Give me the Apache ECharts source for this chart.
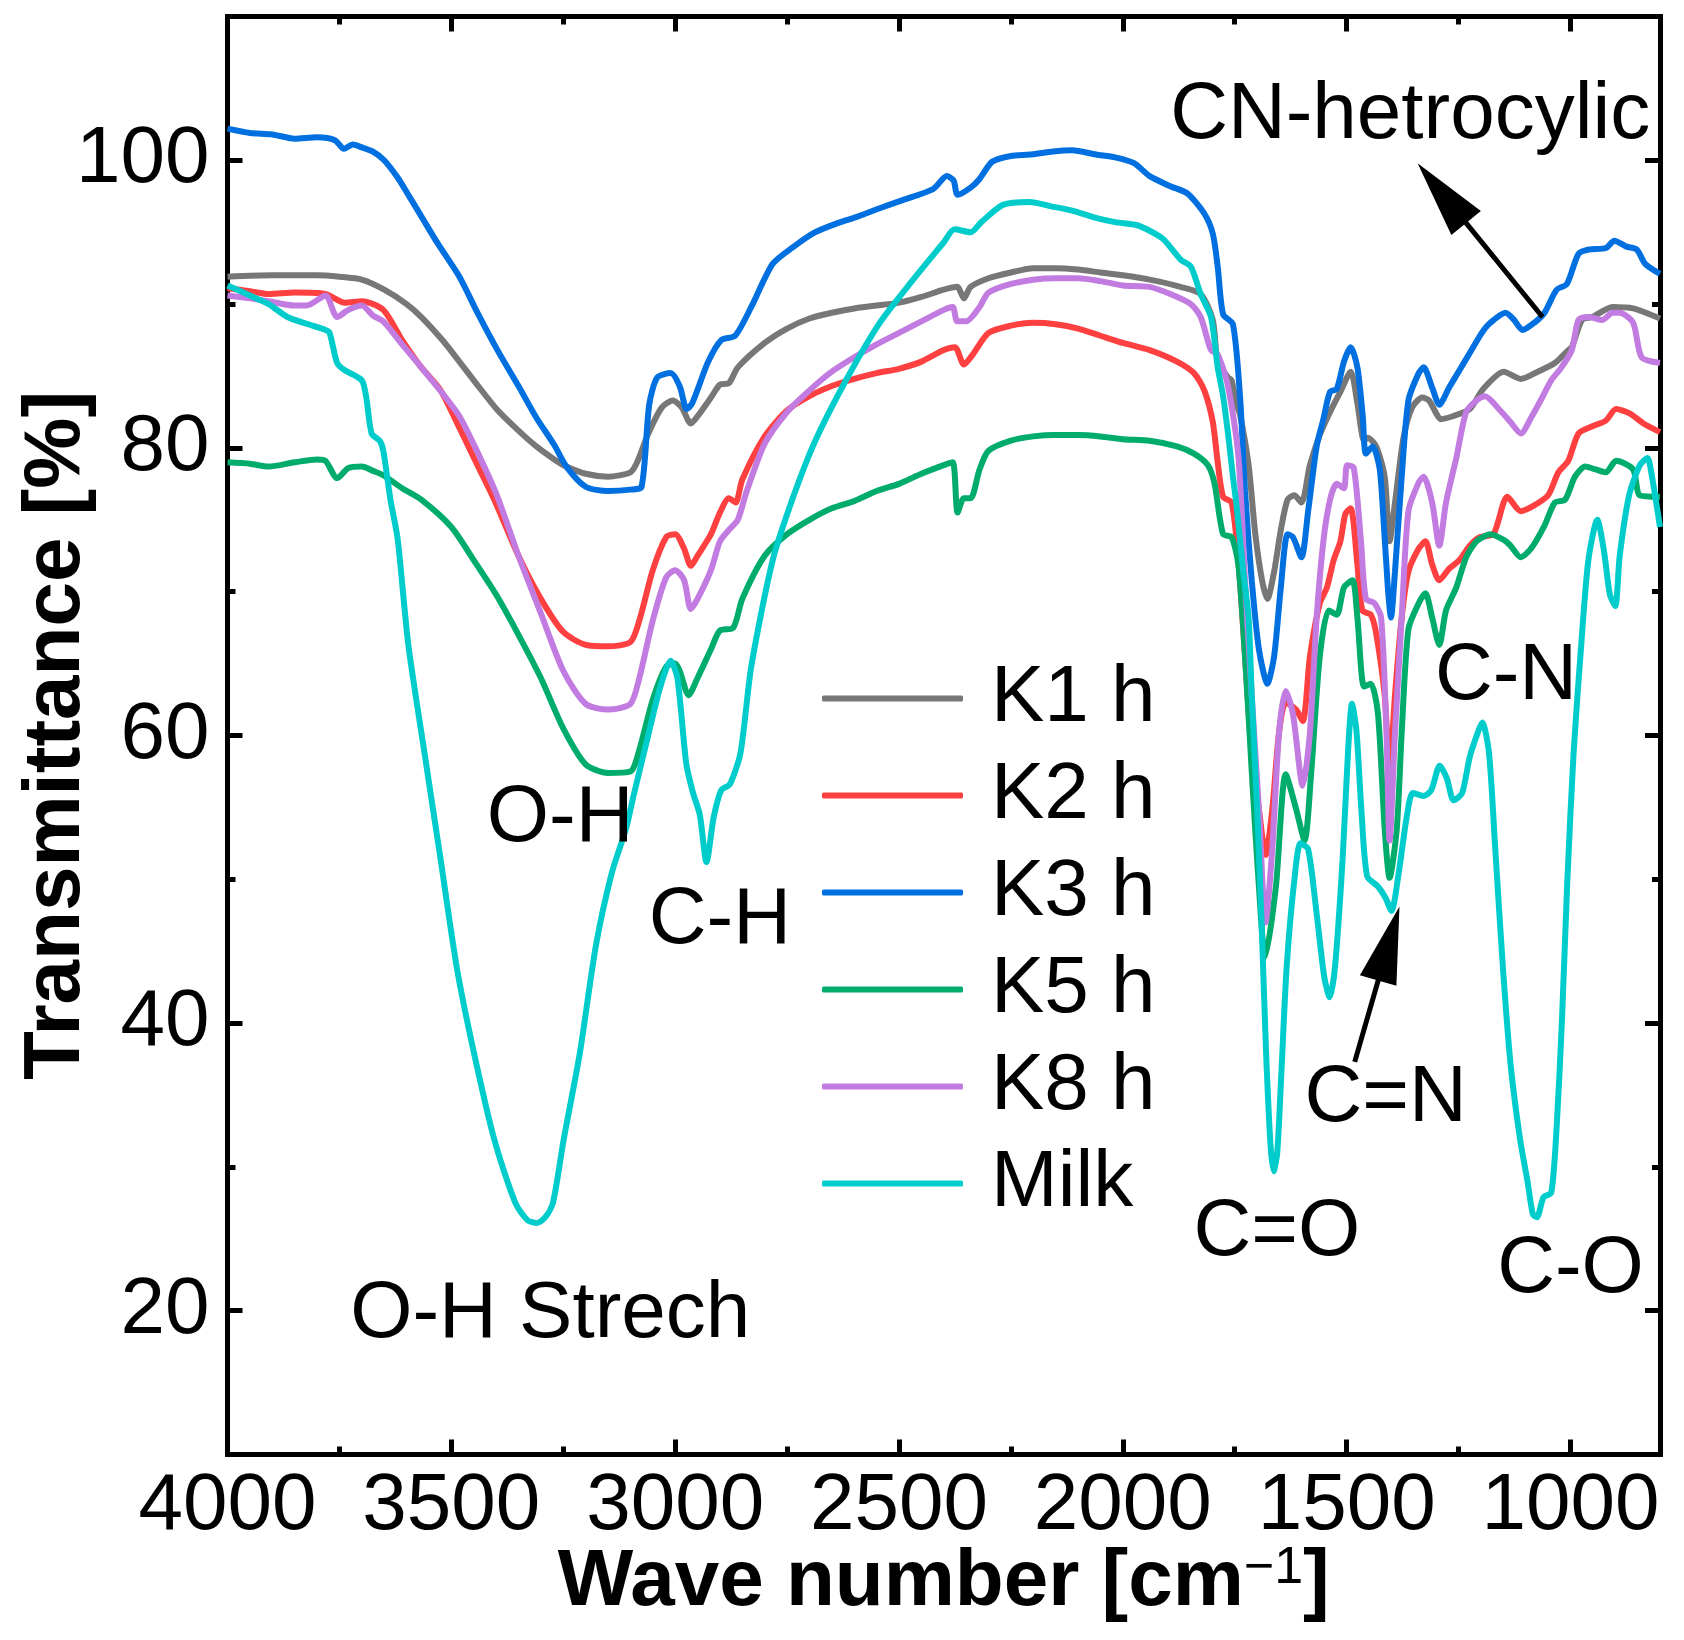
<!DOCTYPE html>
<html><head><meta charset="utf-8">
<script src="https://cdn.jsdelivr.net/npm/echarts@6/dist/echarts.min.js"></script>
<style>html,body{margin:0;padding:0;background:#fff}#c{width:1684px;height:1640px}</style>
</head><body><div id="c"></div>
<script>
const FONT = '"Liberation Sans", Arial, Helvetica, sans-serif';
const seriesNames = ['K1 h', 'K2 h', 'K3 h', 'K5 h', 'K8 h', 'Milk'];
const seriesColors = ['#777777', '#FF4040', '#0070E0', '#00AC6B', '#C27BE0', '#00CCCC'];

const xMajorTicks = [1000, 1500, 2000, 2500, 3000, 3500, 4000];
const xMinorTicks = [1250, 1750, 2250, 2750, 3250, 3750];
const yMajorTicks = [20, 40, 60, 80, 100];
const yMinorTicks = [30, 50, 70, 90];

const k1 = [[4000,91.9],[3900,92.0],[3800,92.0],[3750,91.9],[3700,91.7],[3650,91.0],[3600,90.0],[3567,89.1],[3520,87.5],[3482,86.0],[3440,84.3],[3396,82.6],[3350,81.2],[3310,80.1],[3270,79.2],[3243,78.7],[3200,78.2],[3150,78.0],[3100,78.3],[3085,79.0],[3060,81.0],[3030,82.8],[3005,83.3],[2985,82.8],[2965,81.7],[2950,82.2],[2920,83.5],[2900,84.4],[2880,84.5],[2860,85.6],[2800,87.3],[2750,88.3],[2700,89.0],[2650,89.4],[2600,89.7],[2550,89.9],[2500,90.1],[2450,90.5],[2400,91.0],[2370,91.2],[2355,90.4],[2340,91.2],[2300,91.8],[2250,92.2],[2200,92.5],[2150,92.5],[2100,92.4],[2050,92.2],[2000,92.0],[1940,91.7],[1871,91.2],[1826,90.7],[1799,88.9],[1788,86.0],[1765,84.9],[1757,84.7],[1746,83.0],[1738,82.3],[1719,78.8],[1704,74.0],[1689,70.8],[1677,69.5],[1662,71.4],[1647,74.3],[1632,76.4],[1617,76.7],[1601,76.2],[1582,78.8],[1560,80.9],[1537,82.5],[1514,83.9],[1491,85.3],[1476,83.1],[1461,80.5],[1453,80.7],[1434,80.1],[1415,78.0],[1404,73.5],[1392,76.2],[1373,80.7],[1354,82.8],[1331,83.5],[1316,83.3],[1300,82.4],[1290,82.0],[1263,82.2],[1225,82.7],[1195,84.1],[1149,85.3],[1111,84.8],[1073,85.3],[1035,85.9],[1005,86.8],[997,87.0],[974,88.9],[951,89.1],[906,89.8],[860,89.7],[800,89.0]];

const k2 = [[4000,91.1],[3950,90.9],[3908,90.7],[3850,90.8],[3781,90.7],[3738,90.1],[3700,90.2],[3652,89.6],[3610,87.5],[3567,85.6],[3524,84.0],[3482,81.4],[3440,78.7],[3404,76.4],[3350,72.5],[3300,69.5],[3250,67.2],[3200,66.3],[3150,66.2],[3100,66.5],[3080,68.0],[3050,71.5],[3020,73.8],[3000,74.0],[2980,73.0],[2965,71.8],[2950,72.5],[2920,74.0],[2900,75.5],[2880,76.5],[2865,76.2],[2850,77.8],[2800,80.8],[2750,82.6],[2700,83.6],[2650,84.3],[2600,84.8],[2550,85.2],[2500,85.5],[2450,86.0],[2400,86.8],[2375,87.0],[2355,85.8],[2335,86.5],[2300,88.0],[2250,88.5],[2200,88.7],[2150,88.6],[2100,88.3],[2050,87.8],[2000,87.3],[1940,86.8],[1879,86.0],[1841,85.2],[1818,84.0],[1799,81.8],[1788,79.0],[1776,76.6],[1757,76.2],[1742,72.2],[1727,65.5],[1712,58.8],[1696,54.9],[1681,51.7],[1666,54.9],[1651,60.2],[1636,62.3],[1613,61.8],[1598,61.0],[1582,65.5],[1560,69.2],[1544,70.3],[1529,72.2],[1514,73.5],[1503,75.4],[1491,75.8],[1476,71.9],[1465,68.7],[1446,68.4],[1434,67.1],[1415,62.8],[1404,57.5],[1392,62.8],[1377,68.2],[1362,71.4],[1339,73.0],[1324,73.5],[1309,71.9],[1293,70.8],[1271,71.6],[1248,72.2],[1225,73.2],[1202,73.8],[1172,74.0],[1141,76.6],[1111,75.6],[1081,76.0],[1050,76.7],[1027,78.3],[1005,79.1],[982,81.0],[951,81.5],[921,81.9],[898,82.7],[868,82.4],[837,81.7],[800,81.1]];

const k3 = [[4000,102.2],[3950,101.9],[3900,101.8],[3850,101.5],[3800,101.6],[3760,101.4],[3740,100.8],[3720,101.1],[3700,100.9],[3675,100.6],[3650,100.0],[3620,98.8],[3600,97.8],[3567,96.1],[3530,94.2],[3482,91.9],[3440,89.3],[3397,86.8],[3350,84.3],[3310,82.1],[3270,80.2],[3243,78.7],[3200,77.3],[3150,77.0],[3100,77.1],[3075,77.3],[3058,83.0],[3040,84.9],[3010,85.2],[2990,84.3],[2974,82.7],[2962,83.1],[2926,86.0],[2897,87.5],[2866,87.8],[2830,89.8],[2782,92.8],[2735,94.0],[2687,95.0],[2640,95.6],[2591,96.1],[2540,96.7],[2495,97.2],[2424,98.0],[2393,98.9],[2378,98.6],[2369,97.6],[2340,98.1],[2320,98.7],[2292,99.9],[2250,100.3],[2208,100.4],[2160,100.6],[2113,100.7],[2060,100.4],[2017,100.2],[1975,99.8],[1940,98.9],[1894,98.2],[1856,97.7],[1818,96.3],[1799,94.9],[1788,92.6],[1776,89.3],[1754,88.6],[1738,83.5],[1727,77.0],[1712,70.8],[1696,66.0],[1677,63.6],[1662,65.5],[1647,70.3],[1632,74.0],[1620,73.8],[1601,72.4],[1586,75.6],[1567,80.1],[1552,82.0],[1537,83.9],[1522,84.1],[1506,86.0],[1491,87.0],[1476,85.6],[1464,82.2],[1457,79.6],[1442,80.1],[1427,78.7],[1420,76.2],[1408,70.3],[1401,68.2],[1392,71.4],[1377,78.0],[1362,83.3],[1339,85.2],[1328,85.6],[1309,84.2],[1293,83.0],[1271,84.2],[1248,85.4],[1225,86.6],[1198,88.0],[1179,88.7],[1145,89.4],[1126,88.9],[1107,88.2],[1081,88.7],[1058,89.4],[1031,91.0],[1008,91.4],[982,93.5],[959,93.8],[921,93.9],[902,94.4],[875,94.0],[852,93.8],[833,92.8],[800,92.1]];

const k5 = [[4000,79.0],[3950,78.9],[3908,78.7],[3850,79.0],[3800,79.2],[3781,79.1],[3755,77.9],[3730,78.6],[3700,78.7],[3675,78.4],[3652,78.1],[3610,77.2],[3567,76.4],[3500,74.5],[3450,72.2],[3400,69.8],[3350,67.0],[3300,64.0],[3250,60.5],[3200,58.0],[3150,57.4],[3100,57.5],[3080,59.0],[3050,62.5],[3020,64.8],[3000,65.0],[2990,64.5],[2970,62.8],[2950,64.0],[2920,66.0],[2900,67.3],[2870,67.5],[2850,69.5],[2800,72.5],[2750,74.0],[2700,75.0],[2650,75.8],[2600,76.3],[2550,77.0],[2500,77.5],[2450,78.2],[2400,78.8],[2380,79.0],[2369,75.5],[2355,76.5],[2340,76.5],[2320,78.5],[2300,79.8],[2250,80.5],[2200,80.8],[2150,80.9],[2100,80.9],[2050,80.8],[2000,80.6],[1940,80.5],[1879,80.1],[1841,79.6],[1810,78.8],[1795,77.5],[1776,74.0],[1757,73.8],[1742,71.9],[1727,65.5],[1712,57.5],[1696,49.5],[1682,44.6],[1658,49.5],[1636,57.3],[1613,54.9],[1594,52.7],[1579,57.5],[1560,65.5],[1540,68.7],[1522,68.4],[1506,70.3],[1487,70.8],[1476,68.2],[1461,63.4],[1446,63.6],[1430,61.5],[1415,53.5],[1404,50.1],[1388,53.5],[1377,60.2],[1362,67.4],[1339,69.2],[1324,69.9],[1309,68.2],[1293,66.3],[1278,68.7],[1255,70.3],[1233,72.4],[1210,73.5],[1179,74.0],[1149,73.6],[1134,73.2],[1111,72.4],[1088,73.0],[1058,74.6],[1035,76.2],[1012,76.4],[990,78.0],[967,78.7],[944,78.5],[921,78.3],[898,79.1],[860,78.5],[845,76.7],[800,76.6]];

const k8 = [[4000,90.6],[3950,90.4],[3908,90.2],[3850,89.9],[3823,89.9],[3781,90.6],[3755,89.1],[3730,89.6],[3700,89.9],[3675,89.2],[3652,88.8],[3610,87.2],[3567,85.6],[3520,83.8],[3482,82.2],[3440,79.6],[3397,76.6],[3350,72.5],[3300,68.5],[3250,64.5],[3200,62.2],[3150,61.8],[3100,62.2],[3080,64.0],[3050,68.0],[3020,71.0],[3000,71.5],[2980,70.8],[2965,68.8],[2950,69.5],[2920,71.5],[2900,73.5],[2880,74.3],[2860,75.0],[2840,77.0],[2800,80.3],[2750,82.5],[2700,84.0],[2650,85.3],[2600,86.3],[2550,87.2],[2500,88.0],[2450,88.8],[2400,89.6],[2380,89.8],[2370,88.8],[2350,88.8],[2320,89.8],[2300,90.8],[2250,91.4],[2200,91.7],[2150,91.8],[2100,91.8],[2050,91.6],[2000,91.3],[1940,91.2],[1894,90.7],[1848,90.0],[1826,89.1],[1803,86.8],[1788,86.5],[1765,84.3],[1742,79.5],[1727,70.8],[1712,62.8],[1696,54.9],[1681,47.0],[1666,52.2],[1651,60.2],[1636,63.1],[1620,61.5],[1598,56.5],[1582,60.2],[1567,68.2],[1552,73.5],[1537,76.4],[1522,77.5],[1506,77.2],[1499,78.8],[1484,78.6],[1468,73.5],[1457,69.5],[1438,69.2],[1423,68.2],[1411,60.2],[1404,52.7],[1392,60.2],[1377,68.2],[1362,75.6],[1339,77.6],[1328,78.0],[1309,76.2],[1293,73.2],[1278,76.2],[1255,79.3],[1233,82.5],[1210,83.3],[1191,83.6],[1157,82.6],[1134,81.8],[1111,81.0],[1088,82.1],[1065,83.4],[1043,84.7],[1020,85.6],[997,86.8],[982,88.9],[959,89.1],[929,88.9],[906,89.4],[890,89.4],[860,88.7],[841,86.3],[800,85.9]];

const milk = [[4000,91.3],[3950,90.6],[3908,90.0],[3866,89.1],[3820,88.6],[3781,88.2],[3772,88.0],[3755,85.9],[3738,85.4],[3700,84.7],[3690,83.5],[3678,81.0],[3660,80.5],[3652,79.8],[3636,76.4],[3620,73.7],[3596,66.3],[3560,58.8],[3524,51.4],[3488,43.9],[3452,38.3],[3404,31.9],[3357,27.5],[3330,26.3],[3309,26.1],[3290,26.5],[3273,27.5],[3249,31.9],[3213,37.9],[3177,45.4],[3141,50.5],[3110,53.5],[3093,55.8],[3058,60.3],[3034,63.3],[3010,65.2],[2995,64.0],[2975,58.0],[2960,56.0],[2945,54.5],[2930,51.2],[2914,54.3],[2897,56.2],[2878,56.6],[2854,58.8],[2830,64.8],[2782,72.2],[2735,76.7],[2687,80.5],[2615,84.9],[2543,88.7],[2471,91.6],[2400,94.3],[2376,95.2],[2340,95.0],[2316,95.7],[2268,96.9],[2208,97.1],[2160,96.8],[2113,96.5],[2060,96.0],[2017,95.7],[1970,95.5],[1940,95.1],[1909,94.5],[1871,93.1],[1848,92.6],[1826,90.7],[1803,89.1],[1788,85.6],[1776,83.6],[1765,81.0],[1754,78.0],[1746,76.0],[1731,71.4],[1719,68.2],[1712,62.8],[1700,54.9],[1690,47.0],[1680,38.0],[1670,31.5],[1663,29.7],[1655,31.0],[1646,36.4],[1634,43.9],[1617,49.9],[1603,52.5],[1586,52.1],[1567,47.6],[1550,43.2],[1538,41.8],[1526,43.9],[1509,51.4],[1497,58.8],[1488,62.2],[1478,60.3],[1466,54.3],[1454,50.2],[1430,49.5],[1413,48.7],[1400,47.8],[1383,50.6],[1366,54.3],[1352,56.0],[1328,55.8],[1311,56.2],[1292,57.9],[1276,57.0],[1261,55.5],[1242,56.0],[1225,58.5],[1206,60.3],[1197,60.9],[1182,58.8],[1168,52.1],[1151,43.9],[1134,37.2],[1113,32.0],[1096,29.0],[1084,26.7],[1075,26.5],[1060,27.9],[1043,28.2],[1031,32.7],[1019,40.2],[1007,49.9],[993,58.8],[976,66.3],[960,72.2],[940,75.0],[925,72.8],[912,69.8],[900,69.0],[890,72.5],[869,76.7],[845,78.8],[828,79.3],[819,78.2],[800,74.5]];

const seriesData = [k1, k2, k3, k5, k8, milk];

const annotations = [
  {text: 'O-H', x: 3257, y: 54.2},
  {text: 'C-H', x: 2900, y: 47.1},
  {text: 'O-H Strech', x: 3279, y: 19.7},
  {text: 'C=O', x: 1656, y: 25.4},
  {text: 'C=N', x: 1413, y: 34.7},
  {text: 'C-N', x: 1144, y: 64.1},
  {text: 'C-O', x: 1000, y: 22.8},
  {text: 'CN-hetrocylic', x: 1358, y: 103.1}
];
const arrows = [
  {from: [1062.5, 89.1], to: [1341.5, 99.8]},
  {from: [1482, 37.3], to: [1382, 48.1]}
];

const black = '#000';
const lineStyle = {color: black, width: 5, cap: 'square'};
function xAxisDef(position, ticks, len, showLine, showLabel, extra) {
  return Object.assign({
    type: 'value', min: 800, max: 4000, inverse: true, position: position,
    splitLine: {show: false},
    axisLine: {show: showLine, onZero: false, lineStyle: lineStyle},
    axisTick: {show: true, inside: true, length: len, lineStyle: {color: black, width: 5}, customValues: ticks},
    axisLabel: showLabel ? {show: true, customValues: ticks, margin: 12, fontSize: 80, fontFamily: FONT, color: black,
      formatter: v => String(Math.round(v))} : {show: false}
  }, extra || {});
}
function yAxisDef(position, ticks, len, showLine, showLabel, extra) {
  return Object.assign({
    type: 'value', min: 10, max: 110, position: position,
    splitLine: {show: false},
    axisLine: {show: showLine, onZero: false, lineStyle: lineStyle},
    axisTick: {show: true, inside: true, length: len, lineStyle: {color: black, width: 5}, customValues: ticks},
    axisLabel: showLabel ? {show: true, customValues: ticks, margin: 18, fontSize: 80, fontFamily: FONT, color: black,
      formatter: v => String(Math.round(v))} : {show: false}
  }, extra || {});
}

const option = {
  animation: false,
  backgroundColor: '#fff',
  grid: {left: 227.5, right: 24, top: 16.5, bottom: 185.5, containLabel: false, outerBoundsMode: 'none'},
  legend: {
    orient: 'vertical', left: 817, top: 645, itemGap: 0,
    itemWidth: 141, itemHeight: 6, icon: 'roundRect',
    data: seriesNames,
    textStyle: {fontSize: 80, fontFamily: FONT, color: black, lineHeight: 97, padding: [0, 0, 0, 23]}
  },
  xAxis: [
    xAxisDef('bottom', xMajorTicks, 15, true, true, {
      name: '{t|Wave number [cm}{s|\u22121}{t|]}',
      nameLocation: 'middle', nameGap: 88, nameMoveOverlap: false,
      nameTextStyle: {rich: {
        t: {fontSize: 80, fontWeight: 'bold', fontFamily: FONT, color: black, lineHeight: 80},
        s: {fontSize: 52, fontFamily: FONT, color: black, lineHeight: 30, verticalAlign: 'top'}
      }}
    }),
    xAxisDef('bottom', xMinorTicks, 8, false, false),
    xAxisDef('top', xMajorTicks, 15, true, false),
    xAxisDef('top', xMinorTicks, 8, false, false)
  ],
  yAxis: [
    yAxisDef('left', yMajorTicks, 15, true, true, {
      name: 'Transmittance [%]', nameLocation: 'middle', nameGap: 131, nameRotate: 90, nameMoveOverlap: false,
      nameTextStyle: {fontSize: 80, fontWeight: 'bold', fontFamily: FONT, color: black, lineHeight: 80}
    }),
    yAxisDef('left', yMinorTicks, 8, false, false),
    yAxisDef('right', yMajorTicks, 15, true, false),
    yAxisDef('right', yMinorTicks, 8, false, false)
  ],
  series: seriesNames.map((name, i) => ({
    name: name, type: 'line', xAxisIndex: 0, yAxisIndex: 0,
    data: seriesData[i], showSymbol: false, symbol: 'none', smooth: 0.25,
    color: seriesColors[i], itemStyle: {color: seriesColors[i]},
    lineStyle: {color: seriesColors[i], width: 6}, z: 2 + i
  }))
};

const chart = echarts.init(document.getElementById('c'), null, {renderer: 'canvas', width: 1684, height: 1640});
chart.setOption(option);

const toPx = p => chart.convertToPixel({seriesIndex: 0}, p);
const graphics = [];
annotations.forEach(a => {
  const [x, y] = toPx([a.x, a.y]);
  graphics.push({type: 'text', x: x, y: y, z: 100,
    style: {text: a.text, fontSize: 80, fontFamily: FONT, fill: black, align: 'center', verticalAlign: 'middle'}});
});
arrows.forEach(a => {
  const [x1, y1] = toPx(a.from);
  const [x2, y2] = toPx(a.to);
  const dx = x2 - x1, dy = y2 - y1, L = Math.hypot(dx, dy);
  const ux = dx / L, uy = dy / L;
  const headLen = 77, headHalf = 19;
  const bx = x2 - ux * headLen, by = y2 - uy * headLen;
  graphics.push({type: 'line', z: 100, shape: {x1: x1, y1: y1, x2: bx + ux * 4, y2: by + uy * 4}, style: {stroke: black, lineWidth: 5}});
  graphics.push({type: 'polygon', z: 100, shape: {points: [[x2, y2], [bx - uy * headHalf, by + ux * headHalf], [bx + uy * headHalf, by - ux * headHalf]]}, style: {fill: black}});
});
chart.setOption({graphic: graphics});
</script>
</body></html>
